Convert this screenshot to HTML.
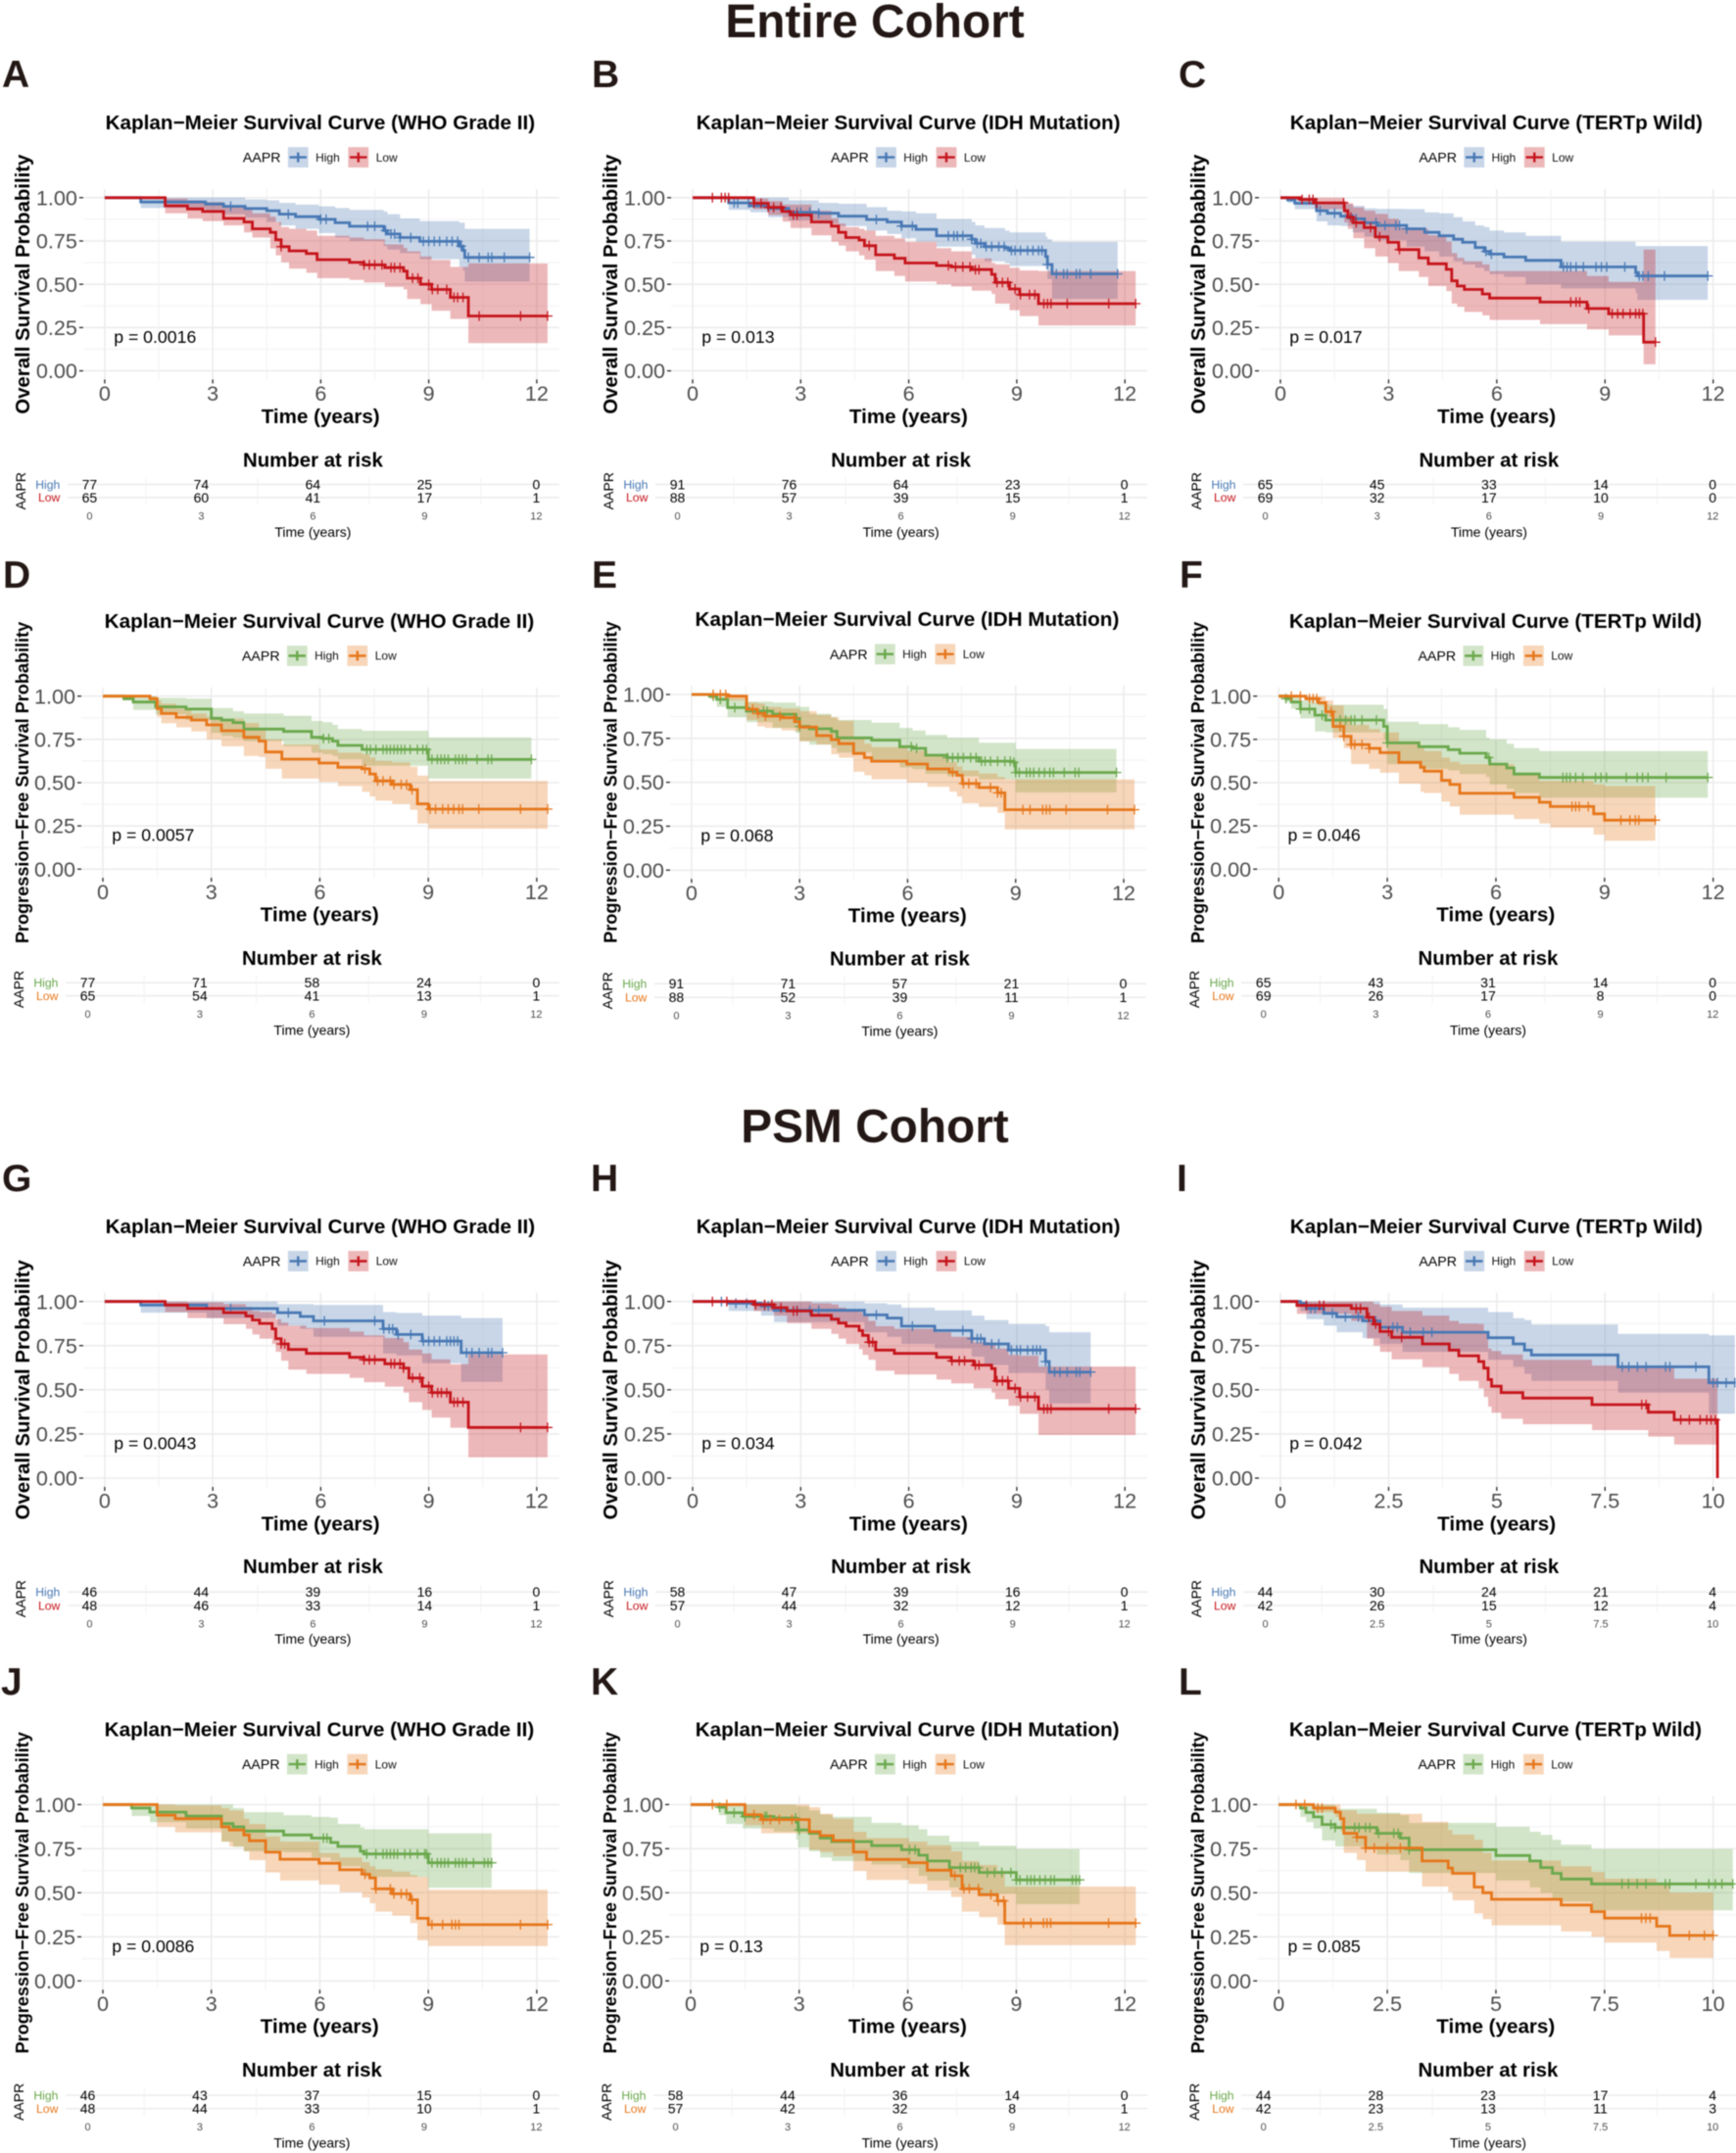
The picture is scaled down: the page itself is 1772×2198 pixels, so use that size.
<!DOCTYPE html>
<html lang="en">
<head>
<meta charset="utf-8">
<title>Kaplan-Meier survival curves: Entire Cohort and PSM Cohort</title>
<style>
html,body{margin:0;padding:0;background:#fff;}
svg{display:block;font-family:"Liberation Sans",Arial,sans-serif;filter:blur(0.4px);}
.letter{font-size:39px;font-weight:700;fill:#231815;}
.heading{font-size:47.8px;font-weight:700;fill:#231815;text-anchor:middle;}
</style>
</head>
<body>
<svg id="figure" xmlns="http://www.w3.org/2000/svg" width="1772" height="2198" viewBox="0 0 1772 2198">
<rect x="0" y="0" width="1772" height="2198" fill="#ffffff"/>
<text class="heading" x="893" y="38">Entire Cohort</text>
<text class="heading" x="893" y="1166">PSM Cohort</text>
<text class="letter" x="2" y="89">A</text>
<text class="letter" x="604" y="89">B</text>
<text class="letter" x="1203" y="89">C</text>
<text class="letter" x="3" y="600">D</text>
<text class="letter" x="604" y="600">E</text>
<text class="letter" x="1204" y="600">F</text>
<text class="letter" x="2" y="1216">G</text>
<text class="letter" x="603" y="1216">H</text>
<text class="letter" x="1201" y="1216">I</text>
<text class="letter" x="1" y="1730">J</text>
<text class="letter" x="603" y="1730">K</text>
<text class="letter" x="1203" y="1730">L</text>
</svg>
<script>
/* ---------- axis tick arrays ---------- */
const xTicks12=[0,3,6,9,12];
const xLabels12=['0','3','6','9','12'];
const xTicks10=[0,2.5,5,7.5,10];
const xLabels10=['0','2.5','5','7.5','10'];
const yTicks=[0,0.25,0.5,0.75,1];
const yLabels=['0.00','0.25','0.50','0.75','1.00'];

/* ---------- Panel A ---------- */
const aHighTime=[1.0,2.8,3.3,3.9,4.5,4.85,5.3,5.95,6.4,6.8,7.75,7.85,8.2,8.75,9.85,9.95,10.0];
const aHighSurv=[.975,.963,.95,.937,.925,.905,.89,.875,.855,.835,.81,.79,.77,.748,.72,.695,.655];
const aHighUpper=[1,1,1,.99,.985,.97,.96,.95,.94,.93,.92,.905,.88,.865,.855,.855,.82];
const aHighLower=[.94,.92,.905,.885,.86,.84,.82,.795,.77,.75,.72,.70,.68,.645,.6,.58,.515];
const aHighCensor=[3.5,5.1,6.0,6.15,7.3,7.5,7.8,7.95,8.05,8.2,8.5,8.85,9.0,9.15,9.3,9.5,9.65,9.8,9.9,10.1,10.4,10.65,10.75,11.1,11.8];
const aLowTime=[1.68,2.3,2.72,3.3,3.87,4.1,4.6,4.75,4.9,5.12,5.6,5.9,6.8,7.2,7.78,8.3,8.4,8.77,9.08,9.6,10.1];
const aLowSurv=[.953,.935,.92,.88,.86,.82,.80,.757,.717,.693,.677,.642,.626,.612,.596,.576,.535,.50,.47,.424,.317];
const aLowUpper=[.995,.985,.975,.95,.935,.91,.89,.86,.83,.82,.81,.78,.77,.76,.73,.71,.69,.66,.64,.60,.62];
const aLowLower=[.91,.88,.865,.84,.80,.77,.707,.667,.626,.59,.566,.535,.525,.51,.485,.47,.415,.385,.347,.30,.16];
const aLowCensor=[4.9,7.2,7.35,7.5,7.7,7.95,8.05,8.2,8.55,8.7,9.0,9.1,9.25,9.5,9.7,9.8,9.95,10.4,11.55,12.3];
const aRiskHigh=[77,74,64,25,0];
const aRiskLow=[65,60,41,17,1];

/* ---------- Panel B ---------- */
const bHighTime=[1.0,1.6,2.1,2.67,3.5,4.05,4.83,5.4,5.8,6.2,6.77,7.75,7.85,8.1,8.67,8.8,9.8,9.85,9.98];
const bHighSurv=[.97,.953,.938,.915,.91,.893,.874,.86,.836,.817,.78,.76,.736,.717,.708,.695,.66,.614,.56];
const bHighUpper=[1,1,1,.985,.97,.965,.945,.925,.92,.91,.877,.86,.84,.825,.81,.80,.775,.76,.745];
const bHighLower=[.93,.915,.887,.868,.85,.836,.81,.79,.765,.746,.717,.67,.65,.633,.623,.605,.585,.53,.416];
const bHighCensor=[1.15,1.25,1.55,2.9,3.0,3.25,3.5,5.1,5.8,6.1,7.1,7.25,7.35,7.5,7.75,7.9,8.0,8.15,8.3,8.5,8.65,8.85,8.95,9.1,9.3,9.45,9.6,9.7,9.85,10.1,10.3,10.4,10.65,10.75,11.05,11.8];
const bLowTime=[1.7,2.1,2.5,2.72,3.3,3.85,4.05,4.25,4.62,4.77,5.08,5.6,5.9,6.77,7.18,7.75,8.3,8.4,8.8,9.08,9.6];
const bLowSurv=[.968,.944,.92,.9,.86,.836,.8,.77,.755,.723,.67,.65,.623,.608,.6,.585,.557,.51,.473,.44,.388];
const bLowUpper=[.995,.98,.96,.96,.925,.88,.85,.83,.82,.81,.78,.765,.745,.708,.69,.65,.623,.615,.595,.58,.576];
const bLowLower=[.934,.9,.862,.825,.783,.746,.723,.69,.667,.642,.576,.548,.516,.5,.487,.463,.444,.388,.35,.316,.262];
const bLowCensor=[.55,.8,.9,1.0,1.7,1.9,2.1,2.25,2.45,2.8,2.9,4.9,7.1,7.3,7.5,7.7,7.85,7.95,8.45,8.6,8.75,8.95,9.1,9.35,9.5,9.75,9.85,9.95,10.4,11.55,12.3];
const bRiskHigh=[91,76,64,23,0];
const bRiskLow=[88,57,39,15,1];

/* ---------- Panel C ---------- */
const cHighTime=[.2,.4,1.0,1.3,1.67,2.0,2.33,2.68,3.5,4.0,4.4,4.8,5.05,5.4,5.65,5.8,6.2,6.8,7.78,9.85,9.9];
const cHighSurv=[.987,.968,.925,.91,.893,.878,.855,.84,.82,.8,.78,.76,.742,.712,.69,.674,.657,.638,.6,.567,.548];
const cHighUpper=[1,1,.97,.962,.962,.953,.938,.935,.934,.915,.91,.887,.863,.84,.83,.81,.8,.78,.746,.72,.72];
const cHighLower=[.97,.934,.863,.84,.836,.8,.775,.755,.717,.69,.66,.633,.614,.595,.576,.558,.542,.5,.476,.45,.41];
const cHighCensor=[1.1,1.5,2.0,2.1,2.65,2.9,3.2,3.3,3.5,5.7,5.85,7.85,7.95,8.05,8.2,8.4,8.75,8.9,9.05,9.55,9.95,10.05,10.2,10.65,11.85];
const cLowTime=[.55,.95,1.77,1.87,2.02,2.32,2.63,2.98,3.28,3.84,4.1,4.6,4.75,4.9,5.1,5.6,5.8,7.2,8.5,9.1,10.07];
const cLowSurv=[.99,.97,.925,.887,.855,.827,.774,.742,.7,.652,.618,.586,.52,.49,.47,.444,.42,.397,.36,.33,.166];
const cLowUpper=[1,1,.98,.968,.944,.925,.906,.878,.827,.82,.783,.746,.68,.652,.633,.614,.576,.576,.548,.514,.70];
const cLowLower=[.962,.934,.857,.82,.765,.708,.66,.623,.576,.542,.49,.46,.388,.37,.34,.32,.294,.27,.24,.205,.038];
const cLowCensor=[.6,.8,.9,1.0,1.75,1.95,2.1,2.5,2.75,3.3,8.05,8.2,8.3,8.55,9.2,9.35,9.5,9.7,9.85,9.95,10.05,10.4];
const cRiskHigh=[65,45,33,14,0];
const cRiskLow=[69,32,17,10,0];

/* ---------- Panel D ---------- */
const dHighTime=[.58,.84,1.46,2.3,3.0,3.28,3.6,3.9,5.0,5.77,6.08,6.35,6.5,7.17,9.0];
const dHighSurv=[.985,.966,.938,.925,.872,.862,.847,.81,.796,.762,.755,.74,.715,.692,.634];
const dHighUpper=[1,1,.99,.985,.932,.932,.913,.9,.887,.857,.85,.834,.81,.8,.762];
const dHighLower=[.975,.92,.895,.862,.787,.77,.76,.74,.71,.673,.665,.654,.634,.598,.523];
const dHighCensor=[6.1,6.25,7.3,7.4,7.55,7.75,7.85,7.95,8.05,8.15,8.25,8.35,8.5,8.7,8.85,8.95,9.1,9.25,9.35,9.45,9.55,9.75,9.85,9.95,10.05,10.35,10.65,10.75,11.85];
const dLowTime=[1.3,1.5,1.62,2.03,2.45,2.87,3.28,3.9,4.32,4.5,4.95,5.98,6.5,7.17,7.38,7.54,8.0,8.5,8.7,9.0];
const dLowSurv=[.985,.928,.9,.877,.862,.834,.8,.762,.74,.677,.636,.613,.589,.58,.55,.51,.489,.46,.377,.347];
const dLowUpper=[1,.975,.957,.928,.9,.88,.87,.845,.815,.75,.72,.692,.673,.664,.645,.626,.617,.592,.54,.51];
const dLowLower=[.975,.88,.843,.82,.796,.75,.71,.654,.648,.58,.523,.504,.48,.447,.42,.396,.377,.343,.264,.234];
const dLowCensor=[7.25,7.6,7.75,7.95,8.05,8.25,8.4,8.55,9.05,9.2,9.4,9.55,9.7,9.85,9.95,10.4,11.55,12.3];
const dRiskHigh=[77,71,58,24,0];
const dRiskLow=[65,54,41,13,1];

/* ---------- Panel E ---------- */
const eHighTime=[.5,.7,1.0,1.53,2.25,2.9,3.0,3.27,3.88,4.04,5.0,5.78,6.14,6.5,7.1,7.98,8.95,9.0];
const eHighSurv=[.99,.972,.925,.905,.888,.864,.818,.805,.79,.753,.74,.703,.693,.654,.64,.62,.613,.556];
const eHighUpper=[1,1,.976,.96,.954,.935,.93,.89,.87,.855,.84,.81,.795,.77,.753,.725,.725,.69];
const eHighLower=[.975,.93,.87,.842,.81,.78,.734,.715,.697,.67,.623,.585,.575,.548,.535,.517,.517,.442];
const eHighCensor=[.6,.8,1.2,1.5,2.0,2.1,2.9,3.0,6.1,6.25,7.1,7.25,7.4,7.55,7.75,7.9,8.05,8.15,8.3,8.5,8.7,8.85,8.95,9.0,9.1,9.3,9.4,9.5,9.65,9.8,9.95,10.05,10.35,10.65,10.75,11.8];
const eLowTime=[1.0,1.53,1.83,2.04,2.5,2.86,3.0,3.47,3.88,4.09,4.5,4.8,5.0,5.98,6.55,7.16,7.37,7.52,7.98,8.5,8.7];
const eLowSurv=[.99,.916,.892,.877,.868,.846,.814,.766,.743,.72,.664,.64,.62,.604,.576,.558,.54,.493,.47,.44,.344];
const eLowUpper=[1,.954,.948,.93,.92,.92,.905,.883,.87,.85,.753,.72,.70,.68,.65,.615,.59,.567,.55,.53,.517];
const eLowLower=[.966,.855,.818,.81,.795,.79,.734,.715,.66,.64,.56,.54,.517,.498,.474,.446,.42,.381,.359,.325,.232];
const eLowCensor=[.6,.8,.95,1.7,1.85,2.05,2.45,2.85,7.25,7.55,7.7,7.9,8.3,8.5,8.6,9.2,9.4,9.75,9.85,9.95,10.4,11.55,12.3];
const eRiskHigh=[91,71,57,21,0];
const eRiskLow=[88,52,39,11,1];

/* ---------- Panel F ---------- */
const fHighTime=[.2,.35,.6,1.0,1.3,2.9,3.0,3.87,4.68,5.0,5.73,5.83,6.3,6.5,7.2];
const fHighSurv=[.985,.966,.925,.89,.862,.825,.73,.708,.69,.67,.645,.607,.585,.55,.53];
const fHighUpper=[1,1,.975,.96,.95,.925,.853,.838,.82,.805,.76,.75,.725,.70,.683];
const fHighLower=[.966,.928,.872,.796,.79,.75,.607,.58,.57,.55,.532,.49,.465,.44,.413];
const fHighCensor=[.2,.6,.85,1.2,1.5,1.7,1.85,2.0,2.1,2.3,2.7,3.0,5.8,7.85,7.95,8.05,8.2,8.4,8.75,8.9,9.05,9.6,9.9,10.05,10.2,10.7,11.85];
const fLowTime=[.75,1.1,1.3,1.5,1.8,2.0,2.5,2.8,3.32,3.92,4.02,4.5,4.73,5.0,6.5,7.2,7.5,8.7,9.0];
const fLowSurv=[.985,.962,.91,.825,.768,.72,.698,.673,.617,.589,.566,.513,.489,.438,.415,.387,.362,.32,.283];
const fLowUpper=[1,1,.975,.947,.88,.834,.81,.79,.74,.70,.683,.645,.62,.607,.55,.51,.51,.49,.48];
const fLowLower=[.975,.947,.88,.758,.70,.607,.58,.557,.494,.447,.44,.39,.362,.315,.29,.264,.24,.2,.164];
const fLowCensor=[.35,.6,.85,.95,1.05,1.45,1.7,1.8,2.0,2.1,2.3,2.5,8.1,8.2,8.3,8.55,9.45,9.7,9.85,9.95,10.4];
const fRiskHigh=[65,43,31,14,0];
const fRiskLow=[69,26,17,8,0];

/* ---------- Panel G ---------- */
const gHighTime=[1.0,2.83,4.8,5.43,5.8,7.73,8.1,8.82,9.9];
const gHighSurv=[.98,.96,.937,.915,.89,.845,.813,.776,.71];
const gHighUpper=[1,1,.985,.985,.98,.94,.935,.92,.906];
const gHighLower=[.937,.906,.863,.845,.80,.706,.695,.65,.545];
const gHighCensor=[3.5,5.1,6.1,7.5,7.75,7.9,8.0,8.15,8.5,8.85,9.0,9.15,9.3,9.5,9.6,9.7,9.8,10.05,10.2,10.4,10.65,10.75,11.05];
const gLowTime=[1.68,2.3,3.3,3.92,4.1,4.3,4.65,4.75,4.9,5.1,5.6,6.8,7.2,7.78,8.3,8.45,8.82,9.08,9.6,10.1];
const gLowSurv=[.98,.96,.937,.918,.895,.876,.845,.79,.76,.728,.706,.684,.67,.647,.623,.567,.52,.484,.43,.287];
const gLowUpper=[1,.995,.985,.97,.946,.94,.93,.9,.88,.863,.85,.83,.808,.793,.77,.728,.706,.673,.645,.70];
const gLowLower=[.94,.906,.872,.845,.813,.79,.76,.715,.665,.614,.59,.567,.543,.518,.484,.43,.386,.342,.285,.118];
const gLowCensor=[4.9,5.0,7.2,7.35,7.5,7.95,8.05,8.2,8.3,8.55,8.75,9.0,9.1,9.25,9.35,9.5,9.7,9.8,9.95,11.55,12.3];
const gRiskHigh=[46,44,39,16,0];
const gRiskLow=[48,46,33,14,1];

/* ---------- Panel H ---------- */
const hHighTime=[1.0,1.9,2.26,4.77,5.4,5.8,6.72,7.75,8.1,8.77,9.8,9.9];
const hHighSurv=[.99,.974,.95,.924,.906,.86,.835,.79,.76,.725,.66,.6];
const hHighUpper=[1,1,1,.99,.983,.965,.95,.92,.895,.872,.86,.826];
const hHighLower=[.946,.92,.883,.826,.80,.76,.734,.688,.64,.595,.5,.423];
const hHighCensor=[.8,1.2,1.5,2.0,2.1,2.9,3.25,3.5,5.1,6.1,7.5,7.75,7.9,8.0,8.3,8.5,8.85,9.0,9.1,9.3,9.45,9.55,9.65,9.8,10.05,10.2,10.4,10.65,10.75,11.05];
const hLowTime=[1.7,2.26,2.62,3.3,3.85,4.05,4.26,4.62,4.72,4.88,5.08,5.6,6.77,7.18,7.8,8.3,8.4,8.77,9.08,9.6];
const hLowSurv=[.983,.965,.946,.922,.9,.878,.86,.835,.808,.77,.725,.706,.684,.664,.64,.62,.55,.508,.46,.392];
const hLowUpper=[1,1,1,.99,.983,.965,.95,.94,.92,.89,.86,.845,.826,.80,.77,.76,.733,.697,.693,.632];
const hLowLower=[.946,.92,.878,.845,.817,.79,.76,.73,.697,.67,.608,.586,.558,.536,.508,.484,.447,.41,.364,.244];
const hLowCensor=[.55,.95,1.75,2.0,2.2,2.45,2.8,2.9,4.9,5.0,7.2,7.4,7.55,7.85,7.95,8.45,8.6,8.75,8.95,9.1,9.3,9.5,9.75,9.85,9.95,11.55,12.3];
const hRiskHigh=[58,47,39,16,0];
const hRiskLow=[57,44,32,12,1];

/* ---------- Panel I ---------- */
const iHighTime=[.46,.6,1.0,1.3,1.9,2.3,2.82,4.8,5.38,5.64,5.8,7.8,9.9];
const iHighSurv=[.99,.96,.933,.913,.89,.854,.826,.795,.76,.725,.697,.63,.54];
const iHighUpper=[1,1,1,1,1,.983,.965,.94,.905,.895,.87,.817,.808];
const iHighLower=[.946,.9,.863,.826,.793,.76,.715,.67,.63,.59,.55,.484,.364];
const iHighCensor=[.7,.8,1.2,1.5,1.8,2.2,2.6,2.7,3.0,3.3,3.5,7.9,8.05,8.25,8.45,8.9,9.0,9.6,10.0,10.1,10.3,10.5];
const iLowTime=[.38,1.64,2.0,2.15,2.3,2.57,3.28,3.9,4.12,4.58,4.7,4.8,4.88,5.1,5.6,7.2,8.5,9.1,10.1];
const iLowSurv=[.978,.96,.91,.872,.83,.797,.76,.725,.693,.66,.623,.558,.52,.484,.453,.416,.373,.33,0];
const iLowUpper=[1,1,1,.985,.97,.946,.92,.89,.875,.872,.83,.734,.72,.70,.67,.637,.637,.563,0];
const iLowLower=[.93,.89,.79,.75,.715,.673,.628,.59,.55,.508,.46,.405,.37,.336,.305,.272,.235,.19,0];
const iLowCensor=[.6,.9,1.0,1.75,1.85,2.05,2.2,2.5,2.8,8.35,8.45,9.25,9.45,9.7,9.85,9.95,10.05];
const iRiskHigh=[44,30,24,21,4];
const iRiskLow=[42,26,15,12,4];

/* ---------- Panel J ---------- */
const jHighTime=[.8,1.3,2.3,3.28,3.6,3.9,5.0,5.77,6.3,6.5,7.12,7.23,9.0];
const jHighSurv=[.98,.957,.935,.892,.874,.85,.828,.81,.785,.763,.735,.72,.67];
const jHighUpper=[1,1,1,1,.98,.957,.94,.93,.926,.89,.87,.86,.837];
const jHighLower=[.935,.9,.865,.79,.76,.735,.73,.70,.68,.65,.60,.59,.528];
const jHighCensor=[6.1,6.2,7.3,7.55,7.75,7.85,7.95,8.05,8.15,8.35,8.5,8.7,8.9,8.95,9.1,9.25,9.35,9.45,9.55,9.75,9.85,9.95,10.05,10.25,10.55,10.65,10.75];
const jLowTime=[1.5,2.0,3.28,3.5,3.9,4.05,4.5,4.9,5.98,6.55,7.17,7.38,7.54,8.0,8.5,8.7,9.0];
const jLowSurv=[.94,.92,.874,.856,.828,.795,.73,.69,.667,.63,.605,.584,.522,.494,.46,.355,.319];
const jLowUpper=[1,.995,.98,.967,.92,.89,.82,.79,.725,.70,.674,.65,.633,.62,.60,.59,.517];
const jLowLower=[.874,.843,.79,.763,.735,.685,.615,.57,.546,.504,.472,.44,.393,.37,.328,.23,.198];
const jLowCensor=[7.25,7.55,7.95,8.05,8.25,8.4,8.55,9.1,9.4,9.65,9.75,9.85,11.55,12.3];
const jRiskHigh=[46,43,37,15,0];
const jRiskLow=[48,44,33,10,1];

/* ---------- Panel K ---------- */
const kHighTime=[.78,.98,1.44,2.3,2.92,2.97,3.28,3.58,3.9,5.0,5.83,6.3,6.54,7.15,7.97,9.0];
const kHighSurv=[.985,.954,.933,.924,.9,.856,.837,.81,.79,.767,.744,.713,.68,.643,.615,.573];
const kHighUpper=[1,1,1,1,.99,.99,.967,.945,.93,.896,.883,.86,.824,.79,.767,.748];
const kHighLower=[.94,.89,.865,.846,.80,.757,.735,.70,.68,.66,.64,.596,.569,.53,.494,.435];
const kHighCensor=[.8,1.2,1.5,2.05,2.1,2.9,3.0,6.05,6.2,7.45,7.6,7.75,7.85,7.95,8.2,8.4,8.6,8.85,9.0,9.1,9.3,9.4,9.5,9.65,9.8,9.95,10.05,10.55,10.65,10.75];
const kLowTime=[1.5,1.95,3.28,3.58,3.94,4.5,4.86,6.03,6.54,7.2,7.5,7.97,8.48,8.68];
const kLowSurv=[.943,.915,.846,.824,.796,.731,.689,.67,.628,.596,.522,.489,.454,.328];
const kLowUpper=[1,1,.985,.948,.92,.846,.81,.79,.77,.735,.68,.657,.624,.535];
const kLowLower=[.883,.837,.744,.73,.707,.624,.572,.55,.513,.476,.393,.361,.319,.202];
const kLowCensor=[.6,1.0,1.75,2.0,2.2,2.45,2.8,7.3,7.55,7.7,7.95,8.3,8.5,8.65,9.2,9.4,9.75,9.85,9.95,11.55,12.3];
const kRiskHigh=[58,44,36,14,0];
const kRiskLow=[57,42,32,8,1];

/* ---------- Panel L ---------- */
const lHighTime=[.5,.63,.8,1.0,1.3,2.26,2.8,3.0,5.0,5.78,6.03,6.3,6.5,7.2];
const lHighSurv=[.98,.955,.93,.887,.87,.837,.81,.744,.711,.68,.643,.61,.578,.55];
const lHighUpper=[1,1,1,1,.976,.954,.94,.896,.874,.846,.828,.80,.772,.748];
const lHighLower=[.93,.9,.865,.796,.763,.717,.685,.611,.57,.53,.50,.467,.45,.40];
const lHighCensor=[1.2,1.3,1.75,1.85,2.0,2.1,2.3,2.65,2.75,3.0,7.9,8.05,8.25,8.45,8.9,9.0,9.6,9.9,10.05,10.2,10.45];
const lLowTime=[.8,1.3,1.42,1.5,1.8,2.0,3.3,3.9,4.0,4.5,4.7,4.9,6.5,7.2,7.5,8.7,9.0];
const lLowSurv=[.98,.957,.92,.837,.815,.754,.68,.64,.61,.532,.5,.463,.43,.393,.356,.31,.258];
const lLowUpper=[1,1,.967,.967,.948,.948,.902,.856,.83,.80,.726,.683,.65,.618,.58,.55,.50];
const lLowLower=[.957,.93,.85,.726,.685,.62,.535,.504,.457,.383,.35,.315,.28,.25,.217,.17,.13];
const lLowCensor=[.4,.6,.9,1.0,1.8,2.0,2.2,2.5,2.8,8.35,8.45,8.55,9.45,9.8,10.0];
const lRiskHigh=[44,28,23,17,4];
const lRiskLow=[42,23,13,11,3];

/* ---------- palette ---------- */
const BLUE='#4878b4', RED='#c5141b', GREEN='#6aa84c', ORANGE='#e6761a';
const OS_TITLE='Overall Survival Probability';
const PFS_TITLE='Progression\u2212Free Survival Probability';
const WHO='Kaplan\u2212Meier Survival Curve (WHO Grade II)';
const IDH='Kaplan\u2212Meier Survival Curve (IDH Mutation)';
const TERT='Kaplan\u2212Meier Survival Curve (TERTp Wild)';

function series(t,s,u,l,c){return {t:t,s:s,u:u,l:l,c:c};}

const panels=[
 {id:'a',title:WHO,yTitle:OS_TITLE,p:'p = 0.0016',hc:BLUE,lc:RED,x0:106.9,xE:547.9,y1:201.8,y0:378.6,risk:[91,116,129.3,148.2,164.3],max:12,high:series(aHighTime,aHighSurv,aHighUpper,aHighLower,aHighCensor),low:series(aLowTime,aLowSurv,aLowUpper,aLowLower,aLowCensor),rh:aRiskHigh,rl:aRiskLow},
 {id:'b',title:IDH,yTitle:OS_TITLE,p:'p = 0.013',hc:BLUE,lc:RED,x0:707,xE:1148.2,y1:201.8,y0:378.6,risk:[91,116,129.3,148.2,164.3],max:12,high:series(bHighTime,bHighSurv,bHighUpper,bHighLower,bHighCensor),low:series(bLowTime,bLowSurv,bLowUpper,bLowLower,bLowCensor),rh:bRiskHigh,rl:bRiskLow},
 {id:'c',title:TERT,yTitle:OS_TITLE,p:'p = 0.017',hc:BLUE,lc:RED,x0:1307,xE:1748.7,y1:201.8,y0:378.6,risk:[91,116,129.3,148.2,164.3],max:12,high:series(cHighTime,cHighSurv,cHighUpper,cHighLower,cHighCensor),low:series(cLowTime,cLowSurv,cLowUpper,cLowLower,cLowCensor),rh:cRiskHigh,rl:cRiskLow},
 {id:'d',title:WHO,yTitle:PFS_TITLE,p:'p = 0.0057',hc:GREEN,lc:ORANGE,x0:105,xE:547.9,y1:710.7,y0:887.3,risk:[90.4,116,129.4,147.7,164.4],max:12,high:series(dHighTime,dHighSurv,dHighUpper,dHighLower,dHighCensor),low:series(dLowTime,dLowSurv,dLowUpper,dLowLower,dLowCensor),rh:dRiskHigh,rl:dRiskLow},
 {id:'e',title:IDH,yTitle:PFS_TITLE,p:'p = 0.068',hc:GREEN,lc:ORANGE,x0:705.9,xE:1147,y1:709,y0:888.3,risk:[90,116,130,148.4,164.4],max:12,high:series(eHighTime,eHighSurv,eHighUpper,eHighLower,eHighCensor),low:series(eLowTime,eLowSurv,eLowUpper,eLowLower,eLowCensor),rh:eRiskHigh,rl:eRiskLow},
 {id:'f',title:TERT,yTitle:PFS_TITLE,p:'p = 0.046',hc:GREEN,lc:ORANGE,x0:1305.2,xE:1748.7,y1:710.7,y0:887.3,risk:[90.4,116,129.4,147.7,164.4],max:12,high:series(fHighTime,fHighSurv,fHighUpper,fHighLower,fHighCensor),low:series(fLowTime,fLowSurv,fLowUpper,fLowLower,fLowCensor),rh:fRiskHigh,rl:fRiskLow},
 {id:'g',title:WHO,yTitle:OS_TITLE,p:'p = 0.0043',hc:BLUE,lc:RED,x0:106.9,xE:547.9,y1:1328.7,y0:1509,risk:[90,116.3,130,148.7,164.3],max:12,high:series(gHighTime,gHighSurv,gHighUpper,gHighLower,gHighCensor),low:series(gLowTime,gLowSurv,gLowUpper,gLowLower,gLowCensor),rh:gRiskHigh,rl:gRiskLow},
 {id:'h',title:IDH,yTitle:OS_TITLE,p:'p = 0.034',hc:BLUE,lc:RED,x0:707,xE:1148.2,y1:1328.7,y0:1509,risk:[90,116.3,130,148.7,164.3],max:12,high:series(hHighTime,hHighSurv,hHighUpper,hHighLower,hHighCensor),low:series(hLowTime,hLowSurv,hLowUpper,hLowLower,hLowCensor),rh:hRiskHigh,rl:hRiskLow},
 {id:'i',title:TERT,yTitle:OS_TITLE,p:'p = 0.042',hc:BLUE,lc:RED,x0:1307,xE:1748.7,y1:1328.7,y0:1509,risk:[90,116.3,130,148.7,164.3],max:10,high:series(iHighTime,iHighSurv,iHighUpper,iHighLower,iHighCensor),low:series(iLowTime,iLowSurv,iLowUpper,iLowLower,iLowCensor),rh:iRiskHigh,rl:iRiskLow},
 {id:'j',title:WHO,yTitle:PFS_TITLE,p:'p = 0.0086',hc:GREEN,lc:ORANGE,x0:105,xE:547.9,y1:1842.3,y0:2022.3,risk:[90.4,116.7,130.4,149,165.4],max:12,high:series(jHighTime,jHighSurv,jHighUpper,jHighLower,jHighCensor),low:series(jLowTime,jLowSurv,jLowUpper,jLowLower,jLowCensor),rh:jRiskHigh,rl:jRiskLow},
 {id:'k',title:IDH,yTitle:PFS_TITLE,p:'p = 0.13',hc:GREEN,lc:ORANGE,x0:705,xE:1148.2,y1:1842.3,y0:2022.3,risk:[90.4,116.7,130.4,149,165.4],max:12,high:series(kHighTime,kHighSurv,kHighUpper,kHighLower,kHighCensor),low:series(kLowTime,kLowSurv,kLowUpper,kLowLower,kLowCensor),rh:kRiskHigh,rl:kRiskLow},
 {id:'l',title:TERT,yTitle:PFS_TITLE,p:'p = 0.085',hc:GREEN,lc:ORANGE,x0:1305.2,xE:1748.7,y1:1842.3,y0:2022.3,risk:[90.4,116.7,130.4,149,165.4],max:10,high:series(lHighTime,lHighSurv,lHighUpper,lHighLower,lHighCensor),low:series(lLowTime,lLowSurv,lLowUpper,lLowLower,lLowCensor),rh:lRiskHigh,rl:lRiskLow}
];

const NS='http://www.w3.org/2000/svg';
const root=document.getElementById('figure');

function make(parent,tag,attrs,text){
  const node=document.createElementNS(NS,tag);
  for(const k in attrs){node.setAttribute(k,attrs[k]);}
  if(text!==undefined){node.textContent=text;}
  parent.appendChild(node);
  return node;
}
function label(parent,x,y,size,text,opts){
  const o=opts||{};
  const a={x:x,y:y+size*0.35,'font-size':size,fill:o.fill||'#000000','text-anchor':o.anchor||'middle'};
  if(o.bold){a['font-weight']='700';}
  if(o.rotate){a.transform='rotate(-90 '+x+' '+y+')';}
  return make(parent,'text',a,text);
}
function stepLine(xs,ys,T,S,end){
  let d='M'+xs(0).toFixed(1)+' '+ys(1).toFixed(1);
  for(let i=0;i<T.length;i++){
    d+='H'+xs(T[i]).toFixed(1)+'V'+ys(S[i]).toFixed(1);
  }
  return d+'H'+xs(end).toFixed(1);
}
function bandPath(xs,ys,T,U,L,end){
  let d='M'+xs(0).toFixed(1)+' '+ys(1).toFixed(1);
  for(let i=0;i<T.length;i++){
    d+='H'+xs(T[i]).toFixed(1)+'V'+ys(U[i]).toFixed(1);
  }
  d+='H'+xs(end).toFixed(1)+'V'+ys(L[L.length-1]).toFixed(1);
  for(let i=T.length-1;i>=0;i--){
    d+='H'+xs(T[i]).toFixed(1);
    d+='V'+ys(i>0?L[i-1]:1).toFixed(1);
  }
  return d+'H'+xs(0).toFixed(1)+'Z';
}
function survivalAt(T,S,t){
  let v=1;
  for(let i=0;i<T.length;i++){if(T[i]<=t){v=S[i];}}
  return v;
}
function seriesEnd(sr){
  return Math.max(sr.t[sr.t.length-1],sr.c.length?sr.c[sr.c.length-1]:0);
}
function drawBand(g,xs,ys,sr,color,which){
  const el=make(g,'path',{d:bandPath(xs,ys,sr.t,sr.u,sr.l,seriesEnd(sr)),fill:color,'fill-opacity':0.3,stroke:'none'});
  
  
}
function drawCurve(g,xs,ys,sr,color,which){
  const el=make(g,'path',{d:stepLine(xs,ys,sr.t,sr.s,seriesEnd(sr)),fill:'none',stroke:color,'stroke-width':2.8,'stroke-linejoin':'miter'});
  
  
  sr.c.forEach(function(ct){
    const cx=xs(ct), cy=ys(survivalAt(sr.t,sr.s,ct));
    const mark=make(g,'path',{d:'M'+(cx-5).toFixed(1)+' '+cy.toFixed(1)+'H'+(cx+5).toFixed(1)+'M'+cx.toFixed(1)+' '+(cy-5).toFixed(1)+'V'+(cy+5).toFixed(1),fill:'none',stroke:color,'stroke-width':1.3});
    
    
  });
}

panels.forEach(function(P){
  const g=make(root,'g',{});
  
  

  const left=P.x0-22, right=P.xE+23, mid=(left+right)/2;
  const ticks=P.max===12?xTicks12:xTicks10;
  const tickLabels=P.max===12?xLabels12:xLabels10;
  const xs=function(t){return P.x0+t*(P.xE-P.x0)/P.max;};
  const ys=function(v){return P.y0-v*(P.y0-P.y1);};
  const top=ys(1.05), bottom=ys(-0.05);

  /* plot title */
  const title=label(g,mid-1,P.y1-77,20.7,P.title,{bold:true});
  
  

  /* legend */
  const lx=mid-80, ly=P.y1-41.2;
  const lt=label(g,lx,ly,14.2,'AAPR',{anchor:'start'});
  
  
  [[P.hc,'High',46,74.2],[P.lc,'Low',107.5,135.8]].forEach(function(k){
    const box=make(g,'rect',{x:lx+k[2],y:ly-10.4,width:20.8,height:20.8,fill:k[0],'fill-opacity':0.3});
    
    
    const kx=lx+k[2];
    const sym=make(g,'path',{d:'M'+(kx+1.7)+' '+ly+'H'+(kx+19.1)+'M'+(kx+10.4)+' '+(ly-5)+'V'+(ly+5),fill:'none',stroke:k[0],'stroke-width':2.4});
    
    
    const kt=label(g,lx+k[3],ly,12,k[1],{anchor:'start',fill:'#111111'});
    
    
  });

  /* grid */
  yTicks.forEach(function(v,i){
    const maj=make(g,'line',{x1:left,x2:right,y1:ys(v),y2:ys(v),stroke:'#ececec','stroke-width':1.6});
    
    
    if(i<yTicks.length-1){
      const mv=(yTicks[i]+yTicks[i+1])/2;
      const min=make(g,'line',{x1:left,x2:right,y1:ys(mv),y2:ys(mv),stroke:'#f2f2f2','stroke-width':1});
      
      
    }
  });
  ticks.forEach(function(v,i){
    const maj=make(g,'line',{x1:xs(v),x2:xs(v),y1:top,y2:bottom,stroke:'#ececec','stroke-width':1.6});
    
    
    if(i<ticks.length-1){
      const mv=(ticks[i]+ticks[i+1])/2;
      const min=make(g,'line',{x1:xs(mv),x2:xs(mv),y1:top,y2:bottom,stroke:'#f2f2f2','stroke-width':1});
      
      
    }
  });

  /* series */
  drawBand(g,xs,ys,P.high,P.hc,'high');
  drawBand(g,xs,ys,P.low,P.lc,'low');
  drawCurve(g,xs,ys,P.high,P.hc,'high');
  drawCurve(g,xs,ys,P.low,P.lc,'low');

  /* y axis */
  yTicks.forEach(function(v,i){
    const t=make(g,'line',{x1:left-4,x2:left,y1:ys(v),y2:ys(v),stroke:'#333333','stroke-width':1.4});
    
    
    const tl=label(g,left-6,ys(v),21.6,yLabels[i],{anchor:'end',fill:'#4d4d4d'});
    
    
  });
  const isPfs=P.yTitle===PFS_TITLE;
  const yt=label(g,P.x0-(isPfs?82.5:84),(P.y0+P.y1)/2,isPfs?18.1:20.4,P.yTitle,{bold:true,rotate:true});
  
  

  /* x axis */
  ticks.forEach(function(v,i){
    const t=make(g,'line',{x1:xs(v),x2:xs(v),y1:bottom,y2:bottom+4,stroke:'#333333','stroke-width':1.4});
    
    
    const tl=label(g,xs(v),P.y0+23,21.6,tickLabels[i],{fill:'#4d4d4d'});
    
    
  });
  const xt=label(g,mid-0.7,P.y0+46.2,20.6,'Time (years)',{bold:true});
  
  

  /* p value */
  const pv=label(g,P.x0+9.3,ys(0.198),17.7,P.p,{anchor:'start'});
  
  

  /* risk table */
  const tx0=P.x0-15, tx1=P.xE;
  const tx=function(t){return tx0+t*(tx1-tx0)/P.max;};
  const rTitle=P.y0+P.risk[0], rHigh=P.y0+P.risk[1], rLow=P.y0+P.risk[2], rTick=P.y0+P.risk[3], rTime=P.y0+P.risk[4];
  const rt=label(g,(tx0+tx1)/2-0.5,rTitle,20.4,'Number at risk',{bold:true});
  
  
  [rHigh,rLow].forEach(function(ry){
    const gl=make(g,'line',{x1:tx0-23,x2:right,y1:ry,y2:ry,stroke:'#ececec','stroke-width':1.6});
    
    
  });
  ticks.forEach(function(v,i){
    if(i<ticks.length-1){
      const mv=(ticks[i]+ticks[i+1])/2;
      const gl=make(g,'line',{x1:tx(mv),x2:tx(mv),y1:rHigh-7.5,y2:rLow+7.5,stroke:'#f2f2f2','stroke-width':1});
      
      
    }
    const hv=label(g,tx(v)-0.5,rHigh,14,String(P.rh[i]));
    
    
    const lv=label(g,tx(v)-0.5,rLow,14,String(P.rl[i]));
    
    
    const tl=label(g,tx(v)-0.5,rTick,11,tickLabels[i],{fill:'#4d4d4d'});
    
    
  });
  const hl=label(g,tx0-30.6,rHigh,12.2,'High',{anchor:'end',fill:P.hc});
  
  
  const ll=label(g,tx0-30.6,rLow,12.2,'Low',{anchor:'end',fill:P.lc});
  
  
  const ra=label(g,P.x0-86,(rHigh+rLow)/2,14,'AAPR',{rotate:true});
  
  
  const rx=label(g,(tx0+tx1)/2-0.5,rTime,14,'Time (years)');
  
  
});
</script>
</body>
</html>
